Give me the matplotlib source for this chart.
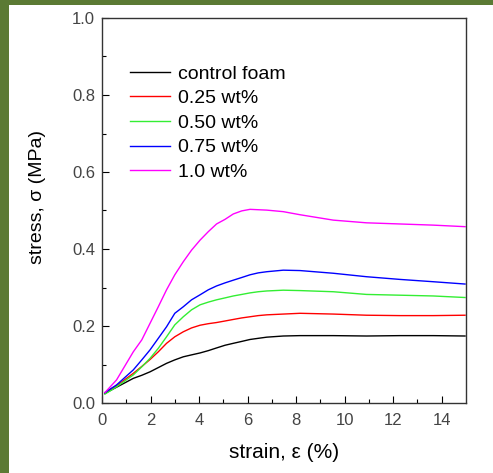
import matplotlib
matplotlib.use("Agg")
import matplotlib.pyplot as plt
from matplotlib.patches import Rectangle

plt.rcParams['font.family'] = ['Liberation Sans', 'DejaVu Sans']

strain = [0.12, 0.6, 1.29, 1.64, 1.98, 2.32, 2.66, 3.0, 3.35, 3.69, 4.04, 4.38, 4.72,
          5.07, 5.41, 5.76, 6.1, 6.44, 6.79, 7.47, 8.16, 9.53, 10.9, 12.28, 13.65, 14.96]

control = [0.025, 0.041, 0.064, 0.072, 0.081, 0.092, 0.103, 0.112, 0.120, 0.125, 0.130,
           0.136, 0.143, 0.150, 0.155, 0.160, 0.165, 0.168, 0.171, 0.174, 0.175, 0.175,
           0.174, 0.175, 0.175, 0.174]
wt025 = [0.027, 0.045, 0.077, 0.095, 0.113, 0.133, 0.155, 0.172, 0.185, 0.195, 0.202,
         0.206, 0.209, 0.213, 0.217, 0.221, 0.224, 0.227, 0.229, 0.231, 0.233, 0.231,
         0.228, 0.227, 0.227, 0.228]
wt050 = [0.023, 0.042, 0.073, 0.094, 0.116, 0.142, 0.172, 0.203, 0.224, 0.242, 0.255,
         0.262, 0.268, 0.273, 0.278, 0.282, 0.286, 0.289, 0.291, 0.293, 0.292, 0.289,
         0.282, 0.280, 0.278, 0.274]
wt075 = [0.027, 0.047, 0.086, 0.112, 0.138, 0.168, 0.198, 0.233, 0.250, 0.268, 0.281,
         0.294, 0.304, 0.312, 0.319, 0.326, 0.333, 0.338, 0.341, 0.345, 0.344, 0.337,
         0.328, 0.321, 0.315, 0.309]
wt100 = [0.027, 0.060, 0.133, 0.164, 0.207, 0.250, 0.294, 0.333, 0.367, 0.397, 0.423,
         0.445, 0.465, 0.477, 0.491, 0.499, 0.503, 0.502, 0.501, 0.497, 0.489, 0.475,
         0.468, 0.465, 0.462, 0.458]

labels = ["control foam", "0.25 wt%", "0.50 wt%", "0.75 wt%", "1.0 wt%"]
colors = ["black", "#ff0000", "#33ee33", "#0000ff", "#ff00ff"]
series = [control, wt025, wt050, wt075, wt100]

fig = plt.figure(figsize=(4.93, 4.73), dpi=100, facecolor="#5b7a34")
fig.patches.append(Rectangle((9 / 493, 0), 1, 468 / 473, transform=fig.transFigure,
                             facecolor="white", edgecolor="none", zorder=-10))

ax = fig.add_axes([102 / 493, 70 / 473, 364 / 493, 385 / 473])
for s, c, lab in zip(series, colors, labels):
    ax.plot(strain, s, color=c, lw=1, label=lab)

ax.set_xlim(0, 15)
ax.set_ylim(0, 1.0)
ax.set_xticks(range(0, 15, 2))
ax.set_xticks(range(1, 15, 2), minor=True)
ax.set_yticks([0.0, 0.2, 0.4, 0.6, 0.8, 1.0])
ax.set_yticks([0.1, 0.3, 0.5, 0.7, 0.9], minor=True)
ax.set_yticklabels(["0.0", "0.2", "0.4", "0.6", "0.8", "1.0"])
ax.tick_params(which="major", direction="in", length=5, width=0.8, labelsize=12,
               labelcolor="#444444", top=False, right=False)
ax.tick_params(which="minor", direction="in", length=3, width=0.8, top=False, right=False)
ax.tick_params(axis="x", pad=7)
ax.tick_params(axis="y", pad=5)
for sp in ax.spines.values():
    sp.set_linewidth(1.0)
    sp.set_color("#333333")

ax.set_xlabel("strain, ε (%)", fontsize=15)
ax.set_ylabel("stress, σ (MPa)", fontsize=14)
ax.xaxis.set_label_coords(0.5, -0.104)
ax.yaxis.set_label_coords(-0.155, 0.535)

ax.legend(loc="upper left", bbox_to_anchor=(0.077, 0.878), frameon=False, fontsize=14,
          handlelength=2.05, handletextpad=0.4, labelspacing=0.36, borderpad=0,
          borderaxespad=0)

fig.savefig("out.png", dpi=100, facecolor=fig.get_facecolor())
